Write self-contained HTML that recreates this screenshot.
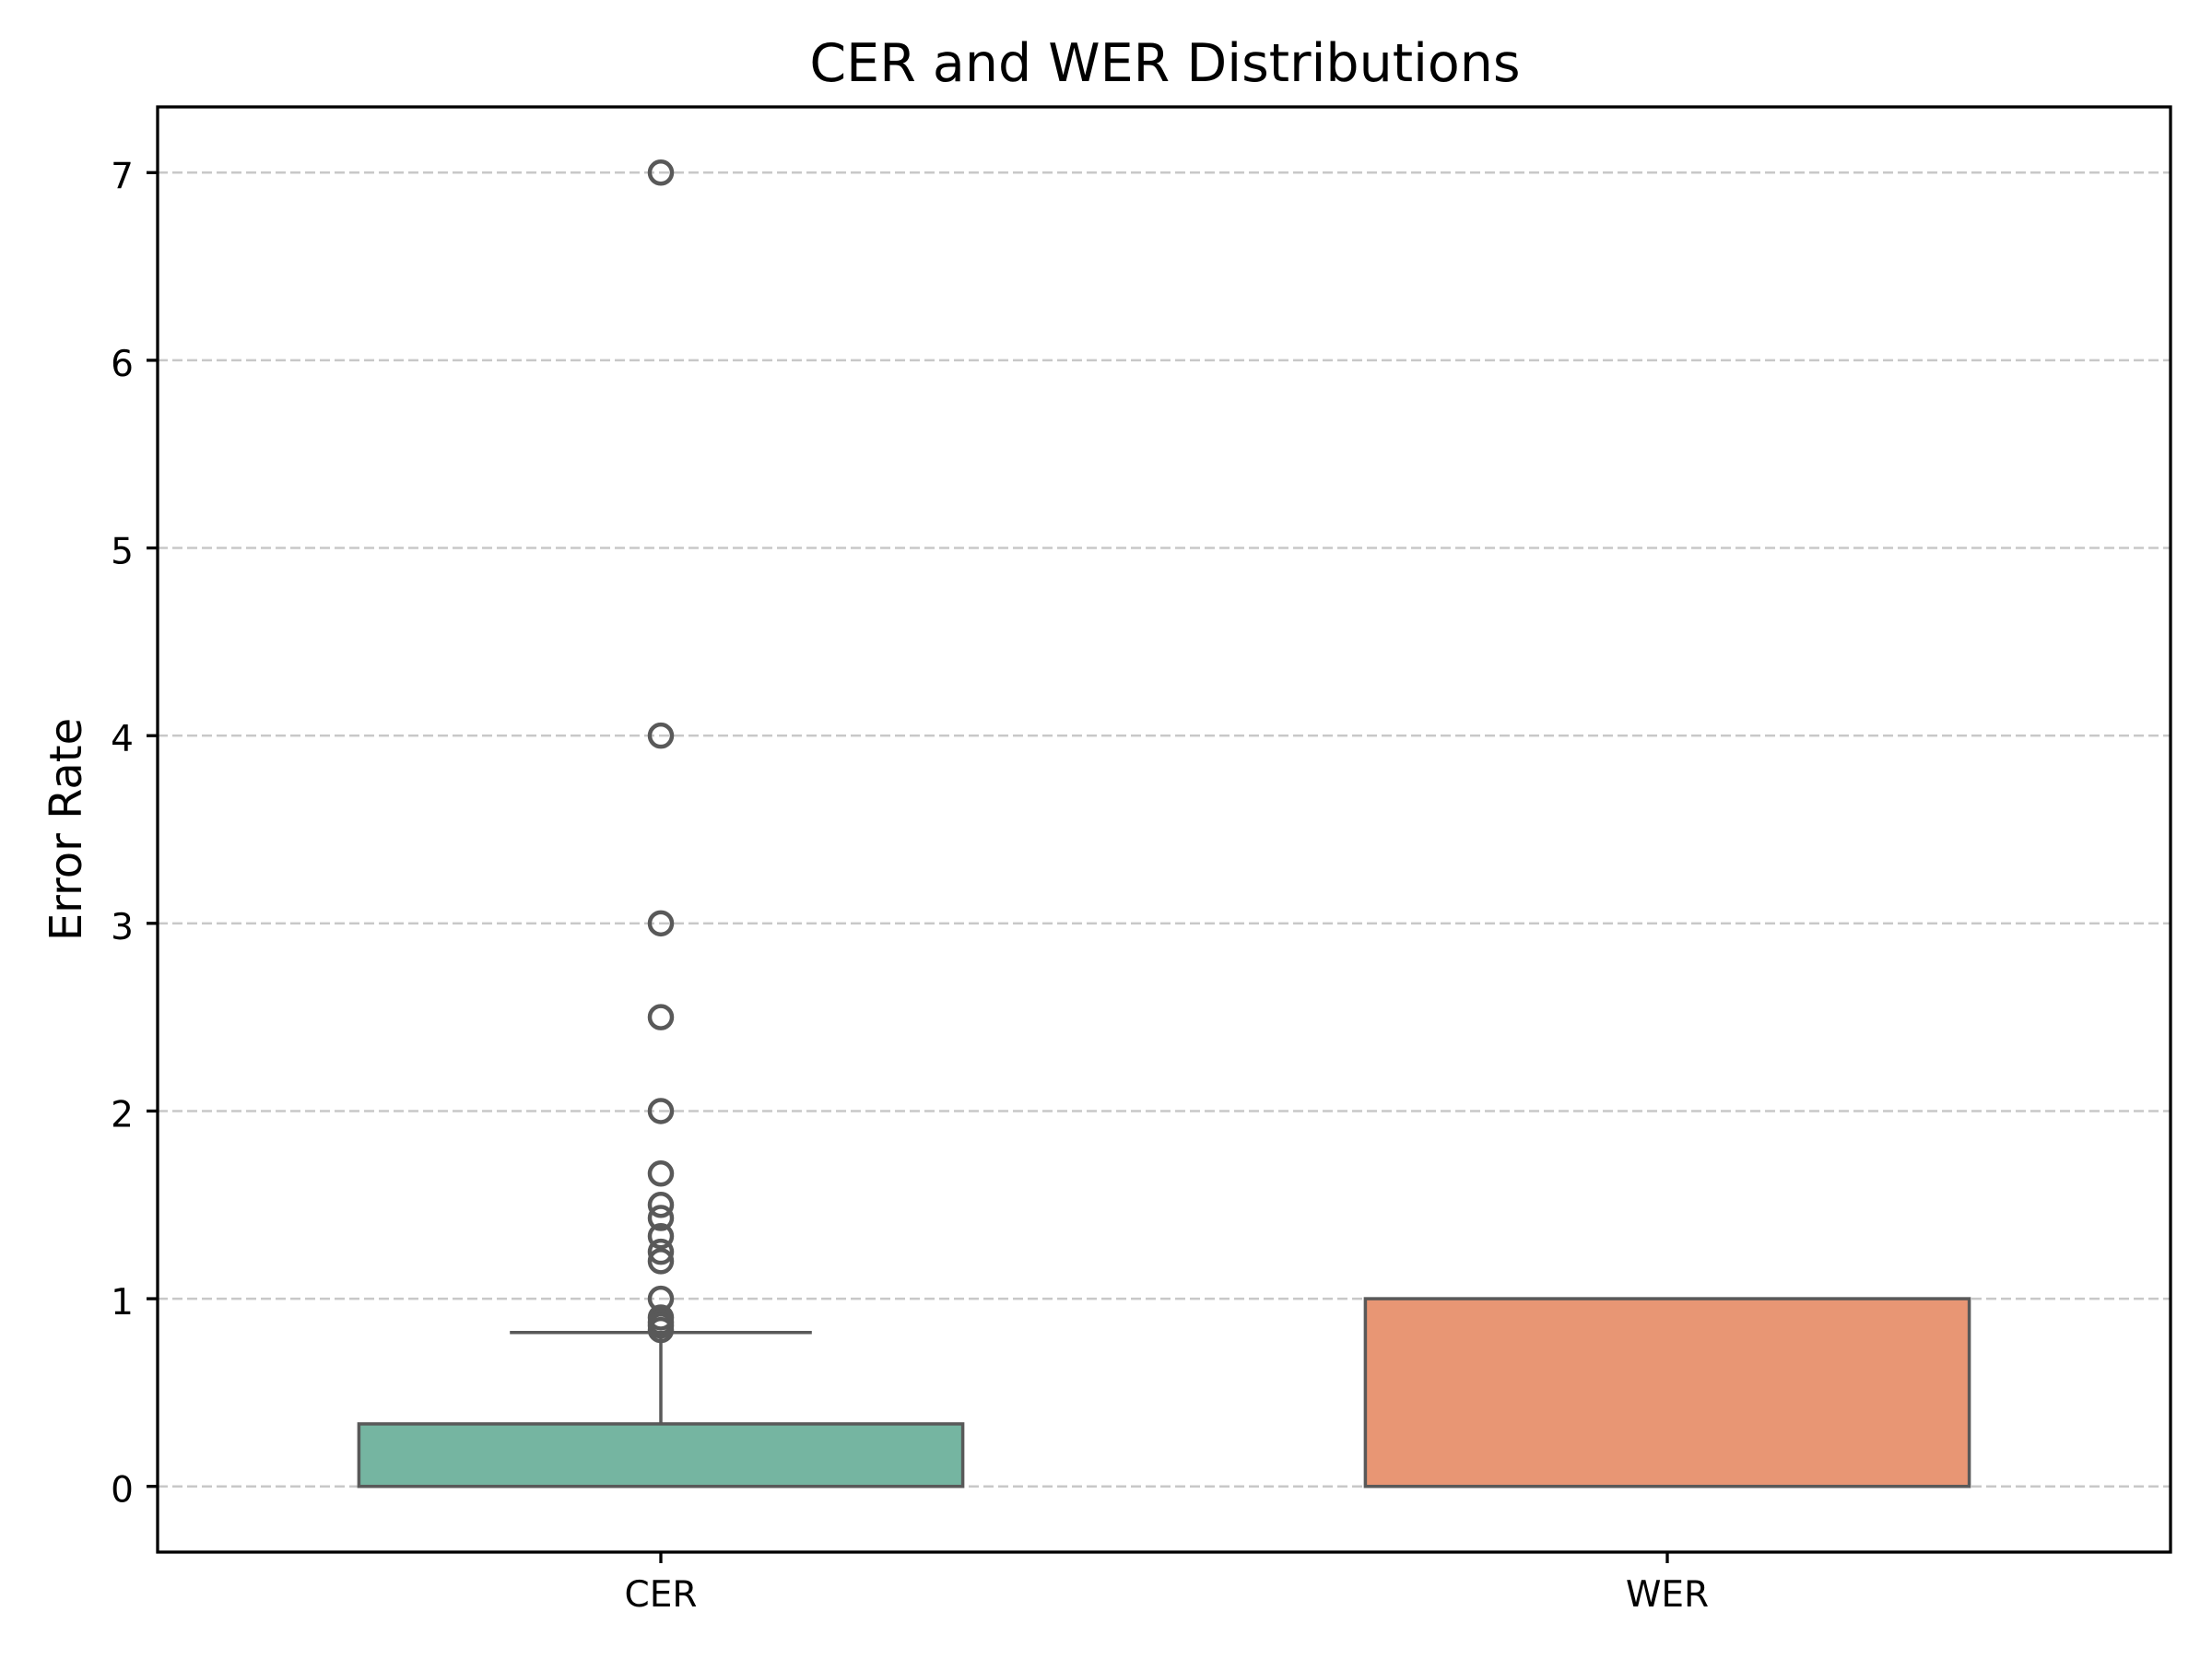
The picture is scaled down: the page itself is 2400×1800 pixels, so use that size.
<!DOCTYPE html>
<html><head><meta charset="utf-8"><style>
html,body{margin:0;padding:0;background:#fff}
svg{display:block;font-family:"DejaVu Sans","Liberation Sans",sans-serif}
</style></head><body>
<svg id="chart" width="2400" height="1800" viewBox="0 0 2400 1800" xmlns="http://www.w3.org/2000/svg">
<rect width="2400" height="1800" fill="#fff"/>
<text x="1264" y="88" font-size="57" text-anchor="middle">CER and WER Distributions</text>
<text transform="translate(88,900) rotate(-90)" font-size="48" text-anchor="middle">Error Rate</text>
<g id="grid"></g>
<g id="marks"></g>
<rect x="171" y="116" width="2184" height="1568" fill="none" stroke="#000" stroke-width="3.3"/>
<g id="axes"></g>
</svg>
<script>
const categories = ["CER", "WER"];
const colors = ["#75b5a1", "#e89674"];
const q1 = [0, 0];
const q3 = [0.333, 1.0];
const whiskerLow = [0, 0];
const whiskerHigh = [0.82, 1.0];
const yTicks = [0, 1, 2, 3, 4, 5, 6, 7];
const cerOutliers = [7, 4, 3, 2.5, 2, 1.667, 1.5, 1.43, 1.333, 1.25, 1.2, 1.0, 0.9, 0.875, 0.857, 0.833];
const wEROutliers = [];

const NS = "http://www.w3.org/2000/svg";
const L = 171, R = 2355, T = 116, B = 1684;
const yMin = -0.35, yMax = 7.35;
function y(v){ return B - (v - yMin) / (yMax - yMin) * (B - T); }
function x(i){ return L + (i + 0.5) / categories.length * (R - L); }
const bw = (R - L) / categories.length * 0.6;
function mk(tag, attrs, parent){
  const e = document.createElementNS(NS, tag);
  for (const k in attrs) e.setAttribute(k, attrs[k]);
  document.getElementById(parent).appendChild(e);
  return e;
}
yTicks.forEach(t => {
  const g = mk("line", {x1: L, x2: R, y1: y(t), y2: y(t), stroke: "#c8c8c8", "stroke-width": 2.5, "stroke-dasharray": "11,5"}, "grid");
  
  
  const tk = mk("line", {x1: L - 12, x2: L, y1: y(t), y2: y(t), stroke: "#000", "stroke-width": 3.3}, "axes");
  
  
  const lb = mk("text", {x: L - 26, y: y(t) + 17, "font-size": 39, "text-anchor": "end"}, "axes");
  lb.textContent = t;
  
  
});
categories.forEach((c, i) => {
  const cx = x(i);
  const tk = mk("line", {x1: cx, x2: cx, y1: B, y2: B + 12, stroke: "#000", "stroke-width": 3.3}, "axes");
  
  
  const lb = mk("text", {x: cx, y: B + 59, "font-size": 39, "text-anchor": "middle"}, "axes");
  lb.textContent = c;
  
  
  if (whiskerHigh[i] > q3[i]) {
    const w = mk("line", {x1: cx, x2: cx, y1: y(q3[i]), y2: y(whiskerHigh[i]), stroke: "#595959", "stroke-width": 3.5}, "marks");
    
    
    const cap = mk("line", {x1: cx - bw / 4, x2: cx + bw / 4, y1: y(whiskerHigh[i]), y2: y(whiskerHigh[i]), stroke: "#595959", "stroke-width": 3.5}, "marks");
    
    
  }
  const box = mk("rect", {x: cx - bw / 2, y: y(q3[i]), width: bw, height: y(q1[i]) - y(q3[i]), fill: colors[i], stroke: "#595959", "stroke-width": 3.5}, "marks");
  
  
  const outs = i === 0 ? cerOutliers : wEROutliers;
  outs.forEach(v => {
    const o = mk("circle", {cx: cx, cy: y(v), r: 12, fill: "none", stroke: "#595959", "stroke-width": 4.5}, "marks");
    
    
  });
});
</script>
</body></html>
